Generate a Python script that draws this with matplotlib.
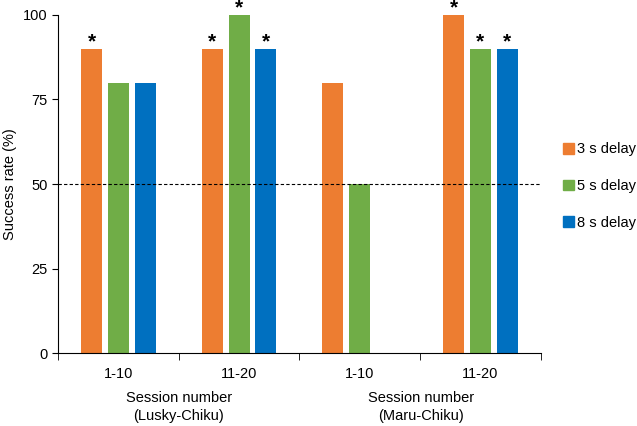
import numpy as np
from matplotlib import pyplot as plt
from matplotlib.patches import Patch

plt.rcParams['font.family'] = ['Liberation Sans', 'DejaVu Sans']

sessions = ['1-10', '11-20', '1-10', '11-20']
pairs = ['Session number\n(Lusky-Chiku)', 'Session number\n(Maru-Chiku)']
delay_labels = ['3 s delay', '5 s delay', '8 s delay']
delay3 = [90, 90, 80, 100]
delay5 = [80, 100, 50, 90]
delay8 = [80, 90, np.nan, 90]
sig3 = [True, True, False, True]
sig5 = [False, True, False, True]
sig8 = [False, True, False, True]
colors = ['#ED7D31', '#70AD47', '#0070C0']

fig = plt.figure(figsize=(6.37, 4.26), dpi=100)
ax = fig.add_axes([0.091, 0.171, 0.758, 0.794])

x = np.arange(len(sessions))
width = 0.174
step = 0.222
for k, (vals, sig) in enumerate(zip([delay3, delay5, delay8], [sig3, sig5, sig8])):
    pos = x + (k - 1) * step
    ax.bar(pos, vals, width, color=colors[k])
    for p, v, s in zip(pos, vals, sig):
        if s:
            ax.annotate('*', (p, v), xytext=(0, -2), textcoords='offset points',
                        ha='center', va='bottom', fontsize=15, fontweight='bold')

ax.axhline(50, color='black', linestyle='--', linewidth=0.8, dashes=(3, 2), clip_on=False)

ax.set_xlim(-0.5, 3.5)
ax.set_ylim(0, 100)
ax.set_yticks([0, 25, 50, 75, 100])
ax.set_xticks(x)
ax.set_xticklabels(sessions)
ax.set_xticks(np.arange(-0.5, 4, 1), minor=True)
ax.tick_params(axis='x', which='major', length=0, pad=10, labelsize=10.5)
ax.tick_params(axis='x', which='minor', length=5, direction='out')
ax.tick_params(axis='y', length=4, labelsize=10.5)
ax.spines['top'].set_visible(False)
ax.spines['right'].set_visible(False)
ax.set_ylabel('Success rate (%)', fontsize=10.5)

for i, txt in enumerate(pairs):
    xf = (58 + 121 * (1 + 2 * i)) / 637
    fig.text(xf, 1 - 407 / 426, txt, ha='center', va='center', fontsize=10.5, linespacing=1.3)

handles = [Patch(color=c) for c in colors]
fig.legend(handles, delay_labels, loc='center left', bbox_to_anchor=(563 / 637, 1 - 186 / 426),
           frameon=False, fontsize=10.5, handlelength=0.75, handleheight=0.75,
           handletextpad=0.2, labelspacing=1.55, borderpad=0, borderaxespad=0)

plt.savefig('out.png', dpi=100)
